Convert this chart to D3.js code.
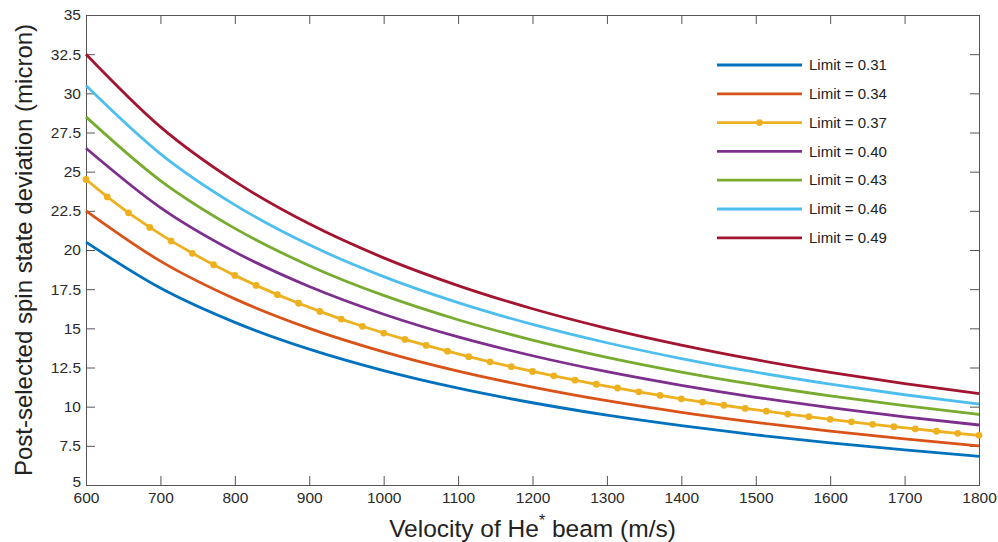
<!DOCTYPE html>
<html>
<head>
<meta charset="utf-8">
<script src="https://cdn.jsdelivr.net/npm/d3@7.9.0/dist/d3.min.js"></script>
<style>
  body { margin: 0; background: #fff; }
  svg { display: block; font-family: 'Liberation Sans', Arial, sans-serif; }
</style>
</head>
<body>
<svg id="chart" width="998" height="542"></svg>
<script>
// velocity grid (m/s) for the smooth curves
const velocity = [600, 700, 800, 900, 1000, 1100, 1200, 1300, 1400, 1500, 1600, 1700, 1800];

const limits = ['0.31', '0.34', '0.37', '0.40', '0.43', '0.46', '0.49'];
const colors = ['#0072BD', '#D95319', '#EDB120', '#7E2F8E', '#77AC30', '#4DBEEE', '#A2142F'];

// deviation (micron) read at each velocity
const lim031 = [20.5, 17.57, 15.38, 13.67, 12.3, 11.18, 10.25, 9.46, 8.79, 8.2, 7.69, 7.24, 6.83];
const lim034 = [22.5, 19.29, 16.88, 15.0, 13.5, 12.27, 11.25, 10.38, 9.64, 9.0, 8.44, 7.94, 7.5];
const lim037 = [24.5, 21.0, 18.38, 16.33, 14.7, 13.36, 12.25, 11.31, 10.5, 9.8, 9.19, 8.65, 8.17];
const lim040 = [26.5, 22.71, 19.88, 17.67, 15.9, 14.45, 13.25, 12.23, 11.36, 10.6, 9.94, 9.35, 8.83];
const lim043 = [28.5, 24.43, 21.38, 19.0, 17.1, 15.55, 14.25, 13.15, 12.21, 11.4, 10.69, 10.06, 9.5];
const lim046 = [30.5, 26.14, 22.88, 20.33, 18.3, 16.64, 15.25, 14.08, 13.07, 12.2, 11.44, 10.76, 10.17];
const lim049 = [32.5, 27.86, 24.38, 21.67, 19.5, 17.73, 16.25, 15.0, 13.93, 13.0, 12.19, 11.47, 10.83];

// marker positions on the Limit = 0.37 curve
const markerV = [600, 628.6, 657.1, 685.7, 714.3, 742.9, 771.4, 800, 828.6, 857.1, 885.7, 914.3, 942.9, 971.4,
  1000, 1028.6, 1057.1, 1085.7, 1114.3, 1142.9, 1171.4, 1200, 1228.6, 1257.1, 1285.7, 1314.3, 1342.9, 1371.4,
  1400, 1428.6, 1457.1, 1485.7, 1514.3, 1542.9, 1571.4, 1600, 1628.6, 1657.1, 1685.7, 1714.3, 1742.9, 1771.4, 1800];
const markerY = [24.5, 23.39, 22.37, 21.44, 20.58, 19.79, 19.06, 18.38, 17.74, 17.15, 16.6, 16.08, 15.59, 15.13,
  14.7, 14.29, 13.91, 13.54, 13.19, 12.86, 12.55, 12.25, 11.97, 11.69, 11.43, 11.19, 10.95, 10.72,
  10.5, 10.29, 10.09, 9.89, 9.71, 9.53, 9.36, 9.19, 9.03, 8.87, 8.72, 8.58, 8.43, 8.3, 8.17];

const xTicks = [600, 700, 800, 900, 1000, 1100, 1200, 1300, 1400, 1500, 1600, 1700, 1800];
const yTicks = [5, 7.5, 10, 12.5, 15, 17.5, 20, 22.5, 25, 27.5, 30, 32.5, 35];

const seriesVals = [lim031, lim034, lim037, lim040, lim043, lim046, lim049];

const margin = { left: 86, right: 19, top: 15, bottom: 57 };
const width = 998, height = 542;
const svg = d3.select('#chart');

const x = d3.scaleLinear().domain([600, 1800]).range([margin.left, width - margin.right]);
const y = d3.scaleLinear().domain([5, 35]).range([height - margin.bottom, margin.top]);

const axisColor = '#555';
const textColor = '#2a2a2a';
const tickLen = 9;

// axes (MATLAB box style, ticks pointing inward)
const xAxisB = svg.append('g').attr('transform', `translate(0,${y(5)})`)
  .call(d3.axisBottom(x).tickValues(xTicks).tickSize(-tickLen).tickPadding(7).tickFormat(d3.format('d')));
const xAxisT = svg.append('g').attr('transform', `translate(0,${y(35)})`)
  .call(d3.axisTop(x).tickValues(xTicks).tickSize(-tickLen).tickFormat(''));
const yAxisL = svg.append('g').attr('transform', `translate(${x(600)},0)`)
  .call(d3.axisLeft(y).tickValues(yTicks).tickSize(-tickLen).tickPadding(5).tickFormat(d => String(d)));
const yAxisR = svg.append('g').attr('transform', `translate(${x(1800)},0)`)
  .call(d3.axisRight(y).tickValues(yTicks).tickSize(-tickLen).tickFormat(''));

[xAxisB, xAxisT, yAxisL, yAxisR].forEach(g => {
  g.select('.domain').attr('stroke', axisColor).attr('stroke-width', 1);
  g.selectAll('.tick line').attr('stroke', axisColor);
  g.selectAll('.tick text').attr('fill', textColor).style('font-size', '15.5px');
});
// bottom "5" label sits a little higher, as in the reference
yAxisL.selectAll('.tick text').filter(d => d === 5).attr('dy', '0.1em');

// lines
const line = d3.line()
  .x(d => x(d[0]))
  .y(d => y(d[1]))
  .curve(d3.curveMonotoneX);

seriesVals.forEach((vals, i) => {
  if (i === 2) return;
  svg.append('path')
    .datum(velocity.map((v, j) => [v, vals[j]]))
    .attr('fill', 'none')
    .attr('stroke', colors[i])
    .attr('stroke-width', 2.8)
    .attr('d', line);
});

// Limit = 0.37 with markers
const markerData = markerV.map((v, j) => [v, markerY[j]]);
const yellowLine = d3.line().x(d => x(d[0])).y(d => y(d[1]));
const yellowG = svg.append('g');
yellowG.append('path')
  .datum(markerData)
  .attr('fill', 'none')
  .attr('stroke', colors[2])
  .attr('stroke-width', 2.8)
  .attr('d', yellowLine);
yellowG.selectAll('circle')
  .data(markerData)
  .join('circle')
  .attr('cx', d => x(d[0]))
  .attr('cy', d => y(d[1]))
  .attr('r', 3.4)
  .attr('fill', colors[2]);

// legend
const legend = svg.append('g').attr('transform', 'translate(717,65)');
limits.forEach((lab, i) => {
  const g = legend.append('g').attr('transform', `translate(0,${i * 28.8})`);
  g.append('line').attr('x1', 0).attr('x2', 85).attr('y1', 0).attr('y2', 0)
    .attr('stroke', colors[i]).attr('stroke-width', 2.8);
  if (i === 2) {
    g.append('circle').attr('cx', 42.5).attr('cy', 0).attr('r', 3.4).attr('fill', colors[i]);
  }
  g.append('text').attr('x', 92).attr('y', 0).attr('dy', '0.35em')
    .attr('fill', '#222').style('font-size', '15px').text('Limit = ' + lab);
});

// axis labels
const xLabel = svg.append('text')
  .attr('x', (x(600) + x(1800)) / 2)
  .attr('y', 537)
  .attr('text-anchor', 'middle')
  .attr('fill', '#222')
  .style('font-size', '24.5px');
xLabel.append('tspan').text('Velocity of He');
xLabel.append('tspan').attr('dy', -11).style('font-size', '16px').text('*');
xLabel.append('tspan').attr('dy', 11).text(' beam (m/s)');

svg.append('text')
  .attr('transform', `translate(32,${(y(5) + y(35)) / 2}) rotate(-90)`)
  .attr('text-anchor', 'middle')
  .attr('fill', '#222')
  .style('font-size', '24px')
  .text('Post-selected spin state deviation (micron)');
</script>
</body>
</html>
